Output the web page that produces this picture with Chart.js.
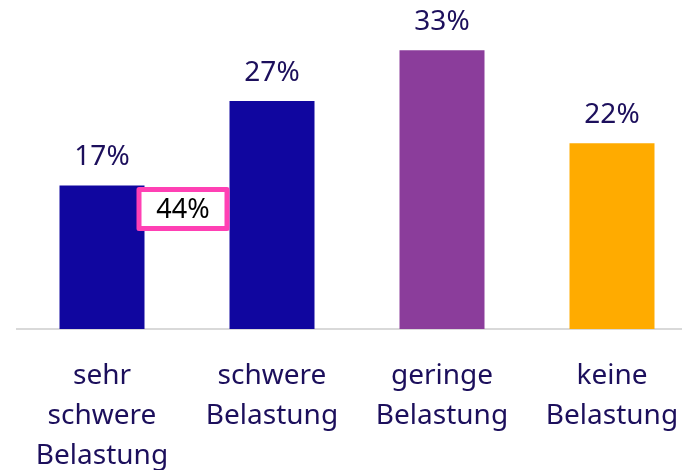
<!DOCTYPE html>
<html>
<head>
<meta charset="utf-8">
<script src="https://cdn.jsdelivr.net/npm/chart.js@4/dist/chart.umd.min.js"></script>
<style>
  html, body { margin: 0; padding: 0; background: #fff; overflow: hidden; }
  #clip { width: 682px; height: 470px; overflow: hidden; position: relative; }
  #wrap { width: 697px; height: 470px; position: absolute; left: 0; top: 0; }
</style>
</head>
<body>
<div id="clip"><div id="wrap"><canvas id="cvs_belastung"></canvas></div></div>
<script>
// dados do gráfico
const categorias = [
  ["sehr", "schwere", "Belastung"],
  ["schwere", "Belastung"],
  ["geringe", "Belastung"],
  ["keine", "Belastung"],
];
const valores = [17, 27, 33, 22];
const cores = ["#10069f", "#10069f", "#8b3d9b", "#ffab00"];
const somaTexto = "44%"; // sehr schwere + schwere

const corTexto = "#1c0f5c";
const fonte = "'Noto Sans', sans-serif";

// rótulos em cima das barras + caixa rosa
const rotulosPlugin = {
  id: "rotulos",
  afterDatasetsDraw(chart) {
    const ctx = chart.ctx;
    const barras = chart.getDatasetMeta(0).data;
    ctx.save();
    ctx.font = "28px " + fonte;
    ctx.fillStyle = corTexto;
    ctx.textAlign = "center";
    ctx.textBaseline = "alphabetic";
    barras.forEach((b, i) => {
      ctx.fillText(valores[i] + "%", b.x, b.y - 20);
    });

    // caixa com a soma entre as duas primeiras barras
    const b0 = barras[0], b1 = barras[1];
    const w = 88, h = 39;
    const direita = b1.x - b1.width / 2 - 2.5;
    const x = direita - w;
    const y = b0.y + 4;
    ctx.fillStyle = "#fff";
    ctx.fillRect(x, y, w, h);
    ctx.strokeStyle = "#ff40b4";
    ctx.lineWidth = 5;
    ctx.lineJoin = "round";
    ctx.strokeRect(x, y, w, h);
    ctx.fillStyle = "#000";
    ctx.font = "27px " + fonte;
    ctx.textBaseline = "middle";
    ctx.fillText(somaTexto, x + w / 2, y + h / 2 + 1);
    ctx.restore();
  },
};

new Chart(document.getElementById("cvs_belastung"), {
  type: "bar",
  data: {
    labels: categorias,
    datasets: [
      {
        data: valores,
        backgroundColor: cores,
        borderWidth: 0,
        barPercentage: 0.5,
        categoryPercentage: 1,
      },
    ],
  },
  options: {
    responsive: true,
    maintainAspectRatio: false,
    animation: false,
    layout: { padding: { left: 17, right: 0, top: 25, bottom: 0 } },
    plugins: { legend: { display: false }, tooltip: { enabled: false } },
    scales: {
      x: {
        grid: { display: false, drawTicks: false },
        border: { display: true, color: "#d9d9d9", width: 2 },
        afterFit(scale) {
          scale.height = 141;
          // sem espaço extra p/ os rótulos das pontas
          scale.paddingLeft = 0;
          scale.paddingRight = 0;
        },
        ticks: {
          color: corTexto,
          padding: 27,
          maxRotation: 0,
          autoSkip: false,
          font: { family: fonte, size: 28, lineHeight: 1.43 },
        },
      },
      y: {
        display: false,
        min: 0,
        max: 36,
      },
    },
  },
  plugins: [rotulosPlugin],
});
</script>
</body>
</html>
